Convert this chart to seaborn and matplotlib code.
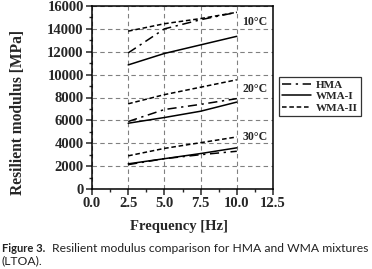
import pandas as pd
import matplotlib
matplotlib.use("Agg")
import matplotlib.pyplot as plt
from matplotlib.lines import Line2D
from matplotlib.ticker import MultipleLocator
import seaborn as sns

# ---- data ----
freq = [2.5, 5.0, 7.5, 10.0]
temps = ["10°C", "20°C", "30°C"]
hma = {"10°C": [11900, 14000, 14800, 15450],
       "20°C": [5900, 6950, 7400, 7900],
       "30°C": [2130, 2650, 3000, 3300]}
wma1 = {"10°C": [10850, 11850, 12600, 13350],
        "20°C": [5750, 6250, 6800, 7600],
        "30°C": [2200, 2650, 3100, 3600]}
wma2 = {"10°C": [13800, 14450, 14900, 15450],
        "20°C": [7450, 8250, 8900, 9550],
        "30°C": [2900, 3550, 4050, 4550]}
label_y = [14600, 8700, 4550]

rows = []
for name, d in [("HMA", hma), ("WMA-I", wma1), ("WMA-II", wma2)]:
    for t in temps:
        for f, v in zip(freq, d[t]):
            rows.append({"freq": f, "mr": v, "mix": name, "temp": t})
df = pd.DataFrame(rows)

sns.set_style("ticks")
plt.rcParams["font.family"] = ["Liberation Serif", "DejaVu Serif"]

fig = plt.figure(figsize=(3.72, 2.69), dpi=100)
ax = fig.add_axes([92 / 372, 1 - 189 / 269, 181 / 372, 183 / 269])

dashes = {"HMA": (6, 3, 1.5, 3), "WMA-I": "", "WMA-II": (3, 1.8)}
sns.lineplot(data=df, x="freq", y="mr", style="mix", units="temp",
             estimator=None, dashes=dashes, color="black", linewidth=1.1,
             legend=False, ax=ax)

ax.set_xlim(0, 12.5)
ax.set_ylim(0, 16000)
ax.xaxis.set_major_locator(MultipleLocator(2.5))
ax.xaxis.set_minor_locator(MultipleLocator(1.25))
ax.yaxis.set_major_locator(MultipleLocator(2000))
ax.yaxis.set_minor_locator(MultipleLocator(1000))
ax.xaxis.set_major_formatter(matplotlib.ticker.FormatStrFormatter("%.1f"))
ax.grid(True, which="major", color="#808080", linestyle=(0, (4, 3)), linewidth=0.8)
for s in ax.spines.values():
    s.set_visible(True)
    s.set_linewidth(1.1)
    s.set_color("black")
ax.tick_params(which="major", direction="out", length=4, width=1.1, labelsize=10.5, pad=2)
ax.tick_params(which="minor", direction="out", length=2.5, width=1.0)
for lab in ax.get_xticklabels() + ax.get_yticklabels():
    lab.set_fontweight("bold")

ax.set_xlabel("Frequency [Hz]", fontsize=10.5, fontweight="bold")
ax.set_ylabel("Resilient modulus [MPa]", fontsize=11.2, fontweight="bold")
ax.xaxis.set_label_coords(0.48, -0.206)
ax.yaxis.set_label_coords(-0.41, 0.42)
ax.xaxis.label.set_va("center")
ax.yaxis.label.set_va("center")

for t, y in zip(temps, label_y):
    ax.text(11.25, y, t, ha="center", va="center", fontsize=8.5, fontweight="bold")

handles = [Line2D([], [], color="black", lw=1.1, dashes=dashes["HMA"]),
           Line2D([], [], color="black", lw=1.1),
           Line2D([], [], color="black", lw=1.1, dashes=dashes["WMA-II"])]
leg = fig.legend(handles, ["HMA", "WMA-I", "WMA-II"],
                 loc="center", bbox_to_anchor=(320 / 372, 1 - 96.5 / 269),
                 prop={"family": "Liberation Serif", "weight": "bold", "size": 8},
                 frameon=True, fancybox=False, edgecolor="black",
                 handlelength=2.6, handletextpad=0.4, borderpad=0.3,
                 labelspacing=0.15, borderaxespad=0)
leg.get_frame().set_linewidth(0.9)

cap = ["Lato", "DejaVu Sans"]
fig.text(2 / 372, 1 - 248 / 269, "Figure 3.", family=cap, fontweight="bold",
         fontsize=8.0, color="#222222", va="center", ha="left")
fig.text(52 / 372, 1 - 248 / 269,
         "Resilient modulus comparison for HMA and WMA mixtures",
         family=cap, fontsize=8.7, color="#222222", va="center", ha="left")
fig.text(2 / 372, 1 - 261 / 269, "(LTOA).", family=cap, fontsize=8.7,
         color="#222222", va="center", ha="left")

fig.savefig("out.png", dpi=100)
